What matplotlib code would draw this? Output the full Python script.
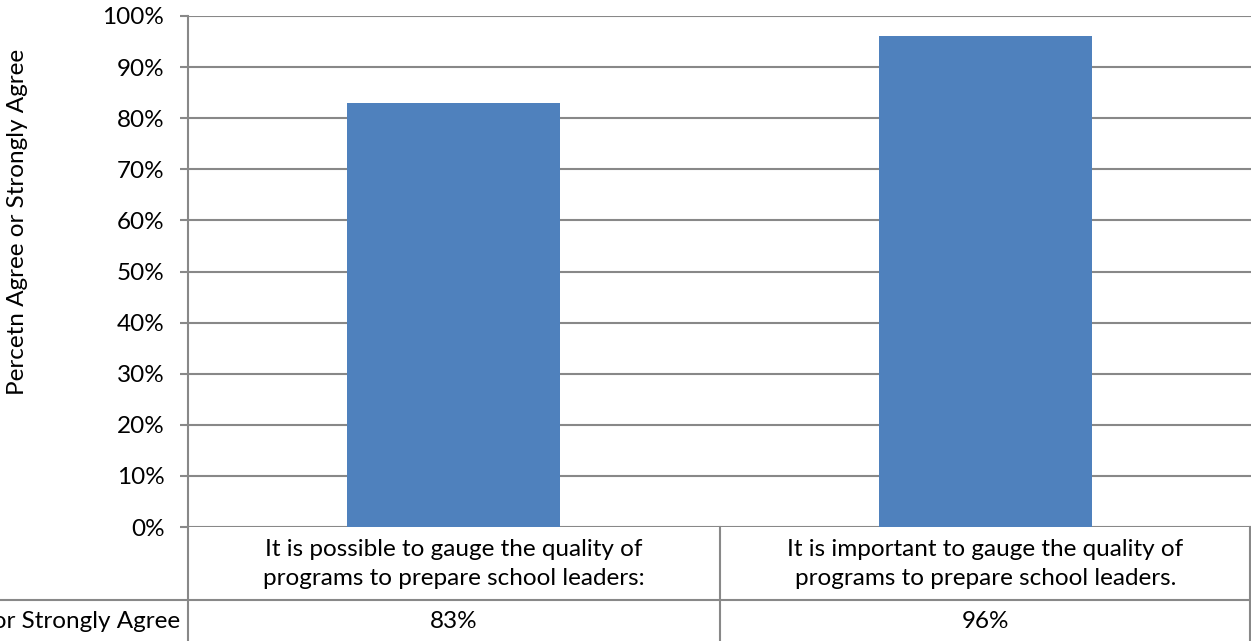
import matplotlib.pyplot as plt
import matplotlib.transforms as mtransforms
from matplotlib.lines import Line2D

# survey results
categories = ["It is possible to gauge the quality of\nprograms to prepare school leaders:",
              "It is important to gauge the quality of\nprograms to prepare school leaders."]
values = [0.83, 0.96]
value_labels = ["83%", "96%"]
row_label = "Percetn Agree or Strongly Agree"
yticks = [i / 10 for i in range(11)]
ytick_labels = ["%d%%" % (i * 10) for i in range(11)]

W, H = 1251, 641
bar_color = "#4F81BD"
grid_color = "#888888"
fsize = 17.5

plt.rcParams['font.family'] = ['Lato', 'DejaVu Sans']

fig = plt.figure(figsize=(W / 100, H / 100), dpi=100)
# plot area in pixels: x 188..1251, y 16..527
ax = fig.add_axes([188 / W, 1 - 527 / H, (W - 188) / W, (527 - 16) / H])

xs = [i + 0.5 for i in range(len(values))]
ax.bar(xs, values, width=0.4, color=bar_color, zorder=3)
ax.set_xlim(0, len(values))
ax.set_ylim(0, 1)
ax.set_yticks(yticks)
ax.set_yticklabels(ytick_labels, fontsize=fsize)
ax.set_xticks([])
ax.tick_params(axis='y', length=6, width=1.5, color=grid_color, pad=11)
ax.yaxis.grid(True, color=grid_color, linewidth=1.5, zorder=0)
for s in ['top', 'right', 'bottom']:
    ax.spines[s].set_visible(False)
ax.spines['left'].set_color(grid_color)
ax.spines['left'].set_linewidth(1.5)

fig.text(18 / W, 1 - 222 / H, row_label, rotation=90, ha='center', va='center', fontsize=fsize)

# data table underneath the axis
def fy(py):
    return 1 - py / H

def fx(px):
    return px / W

line_kw = dict(color=grid_color, linewidth=1.5)
fig.add_artist(Line2D([fx(188), fx(188)], [fy(527), 0], **line_kw))
fig.add_artist(Line2D([0.5 * (fx(188) + 1)] * 2, [fy(527), 0], **line_kw))
fig.add_artist(Line2D([fx(1250), fx(1250)], [fy(527), 0], **line_kw))
fig.add_artist(Line2D([0, 1], [fy(600), fy(600)], **line_kw))

trans = mtransforms.blended_transform_factory(ax.transData, fig.transFigure)
for x, cat, lab in zip(xs, categories, value_labels):
    ax.text(x, fy(564), cat, transform=trans, ha='center', va='center',
            fontsize=fsize, linespacing=1.42, clip_on=False)
    ax.text(x, fy(621), lab, transform=trans, ha='center', va='center',
            fontsize=fsize, clip_on=False)
fig.text(fx(180), fy(621), row_label, ha='right', va='center', fontsize=fsize)

fig.savefig("out.png", dpi=100)
